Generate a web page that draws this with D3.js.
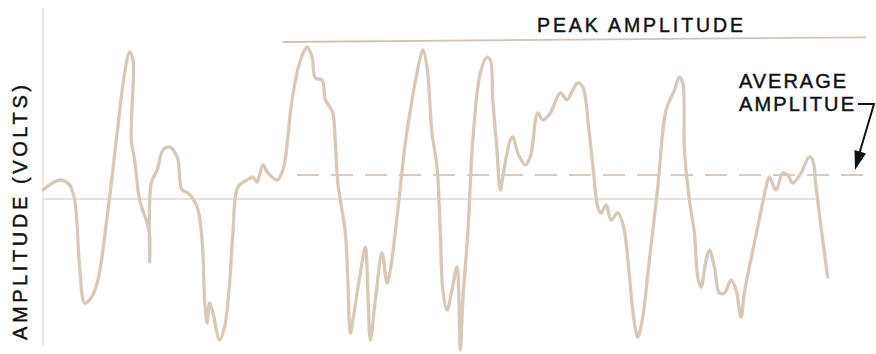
<!DOCTYPE html>
<html>
<head>
  <meta charset="utf-8">
  <title>Amplitude (volts)</title>
  <script src="https://d3js.org/d3.v7.min.js"></script>
  <style>
    body { margin: 0; background: #fff; }
    text { font-family: "Liberation Sans", Arial, sans-serif; fill: #111; stroke: #111; stroke-width: 0.45; }
  </style>
</head>
<body>
  <svg id="chart"></svg>

  <script>
    // waveform samples: time (ms) and amplitude (volts)
    const times = [0, 2.0, 3.2, 3.8, 4.4, 5.0, 5.6, 6.5, 7.7, 8.9, 9.8, 10.4, 10.8, 10.6, 11.0, 11.6, 12.5, 12.8, 12.8, 13.0,
      13.7, 14.4, 15.2, 16.1, 16.7, 17.4, 18.5, 19.1, 19.4, 19.7, 20.0, 20.4, 21.2, 21.8, 22.4, 22.8, 23.4, 24.5, 25.2, 25.7,
      26.4, 27.0, 28.1, 28.8, 29.9, 30.9, 31.7, 32.3, 32.7, 33.5, 33.9, 34.5, 34.8, 35.1, 35.4, 36.3, 36.6, 36.9, 37.2, 38.1,
      38.7, 39.0, 39.3, 39.9, 40.7, 41.3, 41.7, 42.5, 43.5, 44.3, 45.3, 45.6, 46.1, 46.7, 47.3, 47.7, 48.0, 48.5, 49.1, 49.7,
      50.1, 50.4, 51.0, 51.6, 52.5, 53.3, 53.7, 54.0, 54.5, 54.9, 55.2, 56.1, 56.4, 57.0, 57.9, 58.5, 59.4, 60.0, 60.9, 62.1,
      62.9, 63.6, 64.2, 64.8, 65.5, 66.1, 66.6, 67.0, 67.6, 68.2, 69.0, 69.7, 70.3, 70.9, 71.4, 72.0, 72.7, 73.8, 74.8, 75.8,
      76.4, 76.8, 77.0, 77.6, 78.2, 78.6, 79.0, 79.6, 80.0, 80.6, 81.2, 81.8, 82.6, 83.2, 83.8, 84.2, 84.8, 85.8, 86.8, 87.2,
      88.0, 88.8, 89.4, 90.0, 91.0, 92.0, 92.4, 92.8, 93.4, 94.2];
    const volts = [0.57, 1.21, 0.89, -0.06, -4.33, -6.62, -6.43, -5.35, -1.15, 4.20, 8.03, 9.36, 8.85, 3.76, 2.48, -0.06, -1.53, -2.29, -4.01, 1.02,
      1.85, 3.12, 3.31, 2.68, 0.57, 0.38, -0.51, -2.61, -6.43, -7.90, -6.62, -7.26, -8.98, -8.15, -5.35, -2.17, 0.76, 1.21, 1.40, 1.08,
      2.17, 1.66, 1.21, 1.85, 6.31, 8.85, 9.68, 9.04, 7.71, 7.58, 6.31, 5.80, 5.48, 3.57, 1.02, -2.17, -5.35, -8.54, -7.71, -4.71,
      -3.06, -5.99, -8.98, -6.43, -3.44, -5.35, -4.52, -1.15, 3.57, 6.31, 9.04, 9.49, 8.41, 4.20, 2.04, -2.17, -5.80, -7.07, -5.80, -4.33,
      -9.62, -6.43, -2.17, 3.76, 8.03, 9.04, 8.85, 6.31, 3.12, 0.57, 1.40, 3.76, 3.95, 2.93, 2.17, 2.68, 5.48, 5.03, 5.48, 6.75,
      6.31, 6.94, 7.39, 7.13, 4.59, 1.66, -0.51, -0.89, -0.38, -1.34, -0.89, -1.78, -4.33, -7.52, -8.79, -7.52, -4.33, 0.76, 5.67, 6.94,
      7.77, 7.39, 3.12, -0.06, -2.17, -4.97, -5.61, -3.89, -3.25, -4.33, -5.99, -5.99, -5.16, -5.80, -7.52, -5.99, -4.33, -1.78, 0.76, 1.40,
      0.57, 1.66, 1.53, 1.02, 1.66, 2.68, 2.48, 0.76, -1.78, -4.97];

    // reference levels: [time, volts] end points
    const peakLine = [[28.8, 10.0], [98.8, 10.3]];
    const averageLine = [[30.5, 1.53], [99.4, 1.53]];
    const zeroLine = [[0, 0], [93.2, 0]];

    const width = 876, height = 354;

    const svg = d3.select("#chart")
      .attr("width", width)
      .attr("height", height);

    const x = d3.scaleLinear().domain([0, 100]).range([43, 876]);
    const y = d3.scaleLinear().domain([-10, 10]).range([356, 42]);

    const line = d3.line()
      .x(function(d) { return x(d[0]); })
      .y(function(d) { return y(d[1]); });

    // vertical axis
    svg.append("line")
      .attr("x1", x(0)).attr("x2", x(0))
      .attr("y1", 8).attr("y2", 346)
      .attr("stroke", "#ece0d8")
      .attr("stroke-width", 1.5);

    // zero line
    svg.append("path")
      .attr("d", line(zeroLine))
      .attr("fill", "none")
      .attr("stroke", "#e3d6ce")
      .attr("stroke-width", 1.5);

    // peak amplitude line
    svg.append("path")
      .attr("d", line(peakLine))
      .attr("fill", "none")
      .attr("stroke", "#d2c2b4")
      .attr("stroke-width", 1.8);

    // average amplitude line
    svg.append("path")
      .attr("d", line(averageLine))
      .attr("fill", "none")
      .attr("stroke", "#dcc8bc")
      .attr("stroke-width", 1.8)
      .attr("stroke-dasharray", "22,12");

    // the waveform
    const wave = times.map(function(t, i) { return [t, volts[i]]; });
    svg.append("path")
      .attr("d", line.curve(d3.curveCatmullRom.alpha(0.5))(wave))
      .attr("fill", "none")
      .attr("stroke", "#d8c8b7")
      .attr("stroke-width", 3.3)
      .attr("stroke-linejoin", "round")
      .attr("stroke-linecap", "round");

    // labels
    svg.append("text")
      .attr("x", 537).attr("y", 32)
      .attr("font-size", 19.5)
      .attr("textLength", 206)
      .attr("lengthAdjust", "spacing")
      .text("PEAK AMPLITUDE");

    svg.append("text")
      .attr("x", 739).attr("y", 88)
      .attr("font-size", 20)
      .attr("textLength", 107)
      .attr("lengthAdjust", "spacing")
      .text("AVERAGE");

    svg.append("text")
      .attr("x", 739).attr("y", 111)
      .attr("font-size", 20)
      .attr("textLength", 115)
      .attr("lengthAdjust", "spacing")
      .text("AMPLITUE");

    svg.append("text")
      .attr("transform", "translate(27,340) rotate(-90)")
      .attr("font-size", 20)
      .attr("textLength", 255)
      .attr("lengthAdjust", "spacing")
      .text("AMPLITUDE (VOLTS)");

    // pointer from label to the average line
    const tip = [855, 170], start = [874, 104];
    svg.append("path")
      .attr("d", "M858,104L" + start[0] + "," + start[1] + "L" + (tip[0] + 3) + "," + (tip[1] - 12))
      .attr("fill", "none")
      .attr("stroke", "#111")
      .attr("stroke-width", 2);

    const ang = Math.atan2(tip[1] - start[1], tip[0] - start[0]);
    const len = 19, half = 6;
    const bx = tip[0] - len * Math.cos(ang), by = tip[1] - len * Math.sin(ang);
    svg.append("path")
      .attr("d", "M" + tip[0] + "," + tip[1] +
        "L" + (bx + half * Math.sin(ang)) + "," + (by - half * Math.cos(ang)) +
        "L" + (bx - half * Math.sin(ang)) + "," + (by + half * Math.cos(ang)) + "Z")
      .attr("fill", "#111");
  </script>
</body>
</html>
